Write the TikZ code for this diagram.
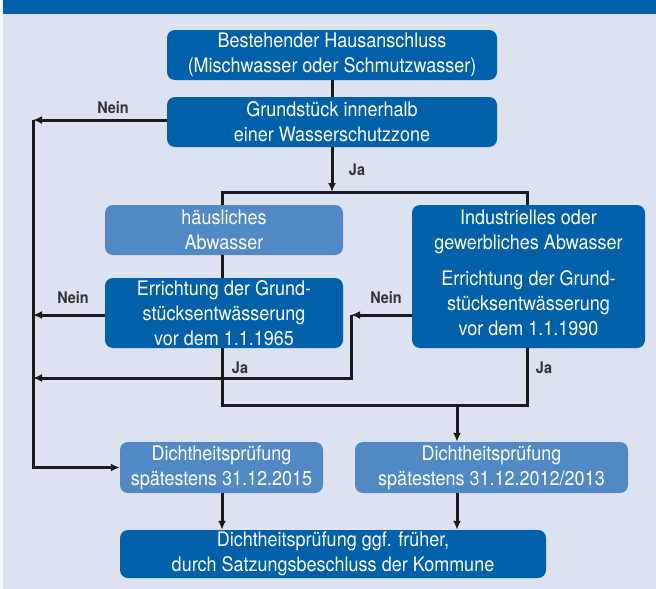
\documentclass[tikz,border=0pt]{standalone}
\usepackage{fontspec}
\setmainfont{TeX Gyre Heros}[FakeStretch=0.9]
\usetikzlibrary{arrows.meta}
\definecolor{bgc}{HTML}{DCE2F0}
\definecolor{darkb}{HTML}{0060A9}
\definecolor{lightb}{HTML}{5089C3}
\definecolor{linec}{HTML}{1A1A1A}
\definecolor{labc}{HTML}{333333}
\tikzset{
  boxbase/.style={rounded corners=8pt, align=center, text=white, inner sep=0pt,
    font=\fontsize{20}{25}\selectfont},
  darkbox/.style={boxbase, fill=darkb},
  lightbox/.style={boxbase, fill=lightb},
  conn/.style={draw=linec, line width=3pt},
  arr/.style={conn, -{Latex[length=9pt,width=8pt]}},
  lab/.style={font=\fontsize{16}{18}\selectfont\bfseries, text=labc, inner sep=0pt}
}
\begin{document}
\begin{tikzpicture}[x=1pt,y=-1pt]
\useasboundingbox (0,0) rectangle (656,589);
\fill[bgc] (0,0) rectangle (656,589);
\fill[white!80!bgc] (0,0) rectangle (3,589);
\fill[darkb] (3,0) rectangle (656,14);

\node[darkbox, minimum width=330pt, minimum height=50pt] (b1) at (332,55)
  {Bestehender Hausanschluss\\(Mischwasser oder Schmutzwasser)};
\node[darkbox, minimum width=330pt, minimum height=50pt] (b2) at (332,122)
  {Grundstück innerhalb\\einer Wasserschutzzone};
\node[lightbox, minimum width=238pt, minimum height=50pt] (hl) at (224,230)
  {häusliches\\Abwasser};
\node[darkbox, minimum width=238pt, minimum height=70pt] (e65) at (224,313)
  {Errichtung der Grund-\\stücksentwässerung\\vor dem 1.1.1965};
\node[darkbox, minimum width=233pt, minimum height=143pt, text depth=8pt] (ind) at (528.5,276.5)
  {Industrielles oder\\gewerbliches Abwasser\\[11pt]Errichtung der Grund-\\stücksentwässerung\\vor dem 1.1.1990};
\node[lightbox, minimum width=203pt, minimum height=51pt] (d15) at (221.5,467.5)
  {Dichtheitsprüfung\\spätestens 31.12.2015};
\node[lightbox, minimum width=273pt, minimum height=51pt] (d12) at (491.5,467.5)
  {Dichtheitsprüfung\\spätestens 31.12.2012/2013};
\node[darkbox, minimum width=426pt, minimum height=48pt] (fin) at (333,554)
  {Dichtheitsprüfung ggf. früher,\\durch Satzungsbeschluss der Kommune};

\coordinate (split) at (332,192);
\coordinate (l1) at (33,120);
\coordinate (l2) at (33,315);
\coordinate (l3) at (33,378);
\coordinate (m1) at (351,315);
\coordinate (jl) at (222,405);
\coordinate (jr) at (527,405);
\coordinate (jm) at (457,405);

\draw[conn] (b1) -- (b2);
\draw[arr] (b2.south) -- (split);
\draw[conn] (hl.north -| jl) |- (split) -| (ind.north -| jr);
\draw[arr] (b2.west |- l1) -- (l1);
\draw[arr] (l1) |- (d15.west);
\draw[conn] (hl.south -| jl) -- (e65.north -| jl);
\draw[arr] (e65.west |- l2) -- (l2);
\draw[arr] (ind.west |- m1) -- (m1);
\draw[arr] (m1) |- (l3);
\draw[conn] (e65.south -| jl) |- (jr) -- (ind.south -| jr);
\draw[arr] (jm) -- (d12.north -| jm);
\draw[arr] (d15.south -| jl) -- (fin.north -| jl);
\draw[arr] (d12.south -| jm) -- (fin.north -| jm);

\node[lab] (n1) at (113,108) {Nein};
\node[lab] (ja1) at (357,170) {Ja};
\node[lab] (n2) at (73,298) {Nein};
\node[lab] (n3) at (386,298) {Nein};
\node[lab] (ja2) at (240,368) {Ja};
\node[lab] (ja3) at (544,368) {Ja};
\end{tikzpicture}
\end{document}
